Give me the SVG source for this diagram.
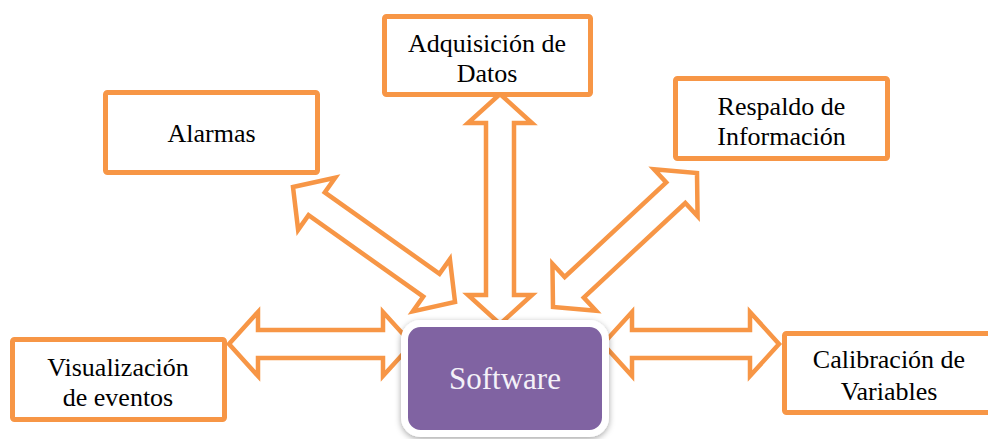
<svg xmlns="http://www.w3.org/2000/svg" width="988" height="439" viewBox="0 0 988 439">
  <style>
    .box { fill: #ffffff; stroke: #F79646; stroke-width: 5; }
    .lbl { font-family: "Liberation Serif", "Times New Roman", serif; font-size: 26px; fill: #000000; text-anchor: middle; }
    .arrow { fill: #ffffff; stroke: #F79646; stroke-width: 4.5; stroke-linejoin: miter; }
    .core { fill: #8064A2; stroke: #ffffff; stroke-width: 7; }
    .core-lbl { font-family: "Liberation Serif", "Times New Roman", serif; font-size: 31px; fill: #f4f1f8; text-anchor: middle; }
  </style>
  <defs>
    <filter id="shadow" x="-10%" y="-10%" width="120%" height="130%">
      <feDropShadow dx="0" dy="2" stdDeviation="3" flood-color="#000000" flood-opacity="0.35"/>
    </filter>
  </defs>

  <rect width="988" height="439" fill="#ffffff"/>

  <!-- double-headed block arrows -->
  <g id="connectors">
    <!-- local shape: tip at (0,0), other tip at (L,0) -->
    <polygon class="arrow" transform="translate(500,94) rotate(90)"
      points="0,0 29,-32 29,-14 201,-14 201,-32 230,0 201,32 201,14 29,14 29,32"/>
    <polygon class="arrow" transform="translate(293,187) rotate(35.37)"
      points="0,0 29,-32 29,-14 169.7,-14 169.7,-32 198.7,0 169.7,32 169.7,14 29,14 29,32"/>
    <polygon class="arrow" transform="translate(697,173) rotate(137.06)"
      points="0,0 29,-32 29,-14 167.7,-14 167.7,-32 196.7,0 167.7,32 167.7,14 29,14 29,32"/>
    <polygon class="arrow" transform="translate(229,344)"
      points="0,0 29,-32 29,-14 154,-14 154,-32 183,0 154,32 154,14 29,14 29,32"/>
    <polygon class="arrow" transform="translate(603,344)"
      points="0,0 29,-32 29,-14 147,-14 147,-32 176,0 147,32 147,14 29,14 29,32"/>
  </g>

  <g id="adquisicion">
    <rect class="box" x="384.5" y="16.5" width="206" height="78" rx="2"/>
    <text class="lbl" x="487" y="52">Adquisición de</text>
    <text class="lbl" x="487" y="82">Datos</text>
  </g>

  <g id="alarmas">
    <rect class="box" x="105.5" y="92.5" width="212" height="80" rx="2"/>
    <text class="lbl" x="211.5" y="142">Alarmas</text>
  </g>

  <g id="respaldo">
    <rect class="box" x="675.5" y="78.5" width="212" height="80" rx="2"/>
    <text class="lbl" x="781.5" y="115">Respaldo de</text>
    <text class="lbl" x="781.5" y="145">Información</text>
  </g>

  <g id="visualizacion">
    <rect class="box" x="12.5" y="339.5" width="212" height="80" rx="2"/>
    <text class="lbl" x="118" y="376">Visualización</text>
    <text class="lbl" x="118" y="406">de eventos</text>
  </g>

  <g id="calibracion">
    <rect class="box" x="784.5" y="333.5" width="212" height="79" rx="2"/>
    <text class="lbl" x="889" y="368">Calibración de</text>
    <text class="lbl" x="889" y="400">Variables</text>
  </g>

  <g id="software">
    <rect class="core" x="404.5" y="323.5" width="201" height="110" rx="16" filter="url(#shadow)"/>
    <text class="core-lbl" x="505" y="389">Software</text>
  </g>
</svg>
